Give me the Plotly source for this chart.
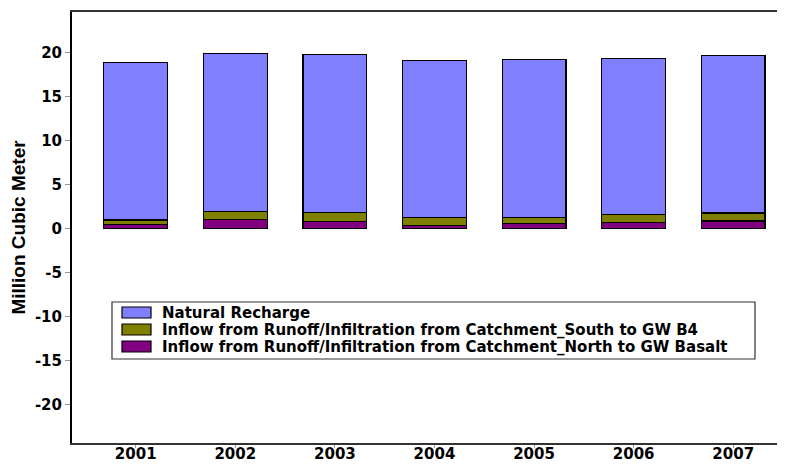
import plotly.graph_objects as go

years = ["2001", "2002", "2003", "2004", "2005", "2006", "2007"]
north_basalt = [0.45, 1.0, 0.8, 0.35, 0.6, 0.7, 0.85]
south_b4 = [0.5, 0.95, 1.0, 0.9, 0.65, 0.85, 0.9]
natural_recharge = [17.95, 17.95, 18.0, 17.85, 17.95, 17.75, 17.95]

names = [
    "Natural Recharge",
    "Inflow from Runoff/Infiltration from Catchment_South to GW B4",
    "Inflow from Runoff/Infiltration from Catchment_North to GW Basalt",
]
colors = ["#8080FF", "#808000", "#800080"]

y_ticks = [-20, -15, -10, -5, 0, 5, 10, 15, 20]
y_ticktext = [str(v) for v in y_ticks]

fig = go.Figure()
for vals, nm, col in [(north_basalt, names[2], colors[2]),
                      (south_b4, names[1], colors[1]),
                      (natural_recharge, names[0], colors[0])]:
    fig.add_trace(go.Bar(x=years, y=vals, name=nm,
                         marker=dict(color=col, line=dict(color="black", width=1.2)),
                         width=0.64, showlegend=False))

# the page body adds an 8px offset; compensate so the plot lands where it should
OFF = 8
SW, SH = 785, 467            # screen size
W, H = SW - OFF, SH - OFF    # figure size
# plot area in screen pixels: x 72..785, y 12..443
L, R, T, B = 72 - OFF, 0, 12 - OFF, SH - 443
pw, ph = W - L - R, H - T - B

def px(x):
    return (x - OFF - L) / pw

def py(y):
    return (H - B - (y - OFF)) / ph

shapes = [dict(type="rect", xref="paper", yref="paper", x0=px(112), x1=px(755), y0=py(359), y1=py(302),
               line=dict(color="#333", width=1.2), fillcolor="white", layer="above")]
annotations = []
rows = [307, 324, 341]
for i, (nm, col) in enumerate(zip(names, colors)):
    r = rows[i]
    shapes.append(dict(type="rect", xref="paper", yref="paper", x0=px(122), x1=px(151), y0=py(r + 11), y1=py(r),
                       line=dict(color="black", width=1.2), fillcolor=col, layer="above"))
    annotations.append(dict(xref="paper", yref="paper", x=px(160), y=py(r + 5.5), text=nm, showarrow=False,
                            xanchor="left", yanchor="middle",
                            font=dict(family="DejaVu Sans", size=15, color="black", weight="bold")))

tickfont = dict(family="DejaVu Sans", size=15, color="black", weight="bold")
fig.update_layout(
    barmode="stack",
    width=W, height=H,
    margin=dict(l=L, r=R, t=T, b=B, pad=0),
    plot_bgcolor="white", paper_bgcolor="white",
    shapes=shapes, annotations=annotations,
    xaxis=dict(range=[-0.64, 6.52], showline=True, linecolor="#333", linewidth=2, mirror=True,
               ticks="outside", ticklen=3, tickcolor="#999", showgrid=False, tickfont=tickfont,
               ticklabelstandoff=-7),
    yaxis=dict(range=[-24.4, 24.6], tickvals=y_ticks, ticktext=y_ticktext, showline=True,
               linecolor="black", linewidth=2,
               ticks="outside", ticklen=5, tickcolor="#999", showgrid=False, zeroline=False,
               tickfont=tickfont,
               title=dict(text="Million Cubic Meter", standoff=5,
                          font=dict(family="Liberation Sans", size=19, color="black", weight="bold"))),
)

fig.write_html("out.html")
